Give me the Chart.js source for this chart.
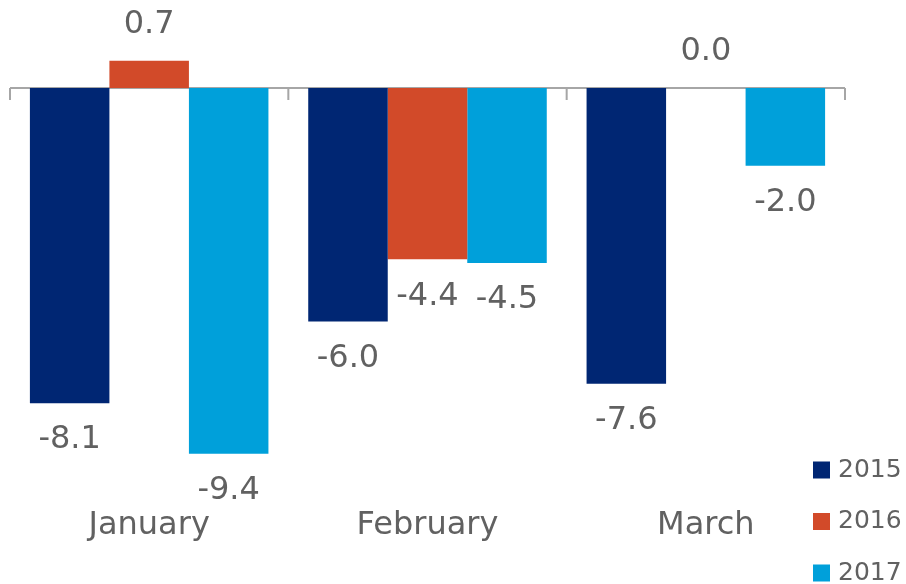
<!DOCTYPE html>
<html>
<head>
<meta charset="utf-8">
<script src="https://cdn.jsdelivr.net/npm/chart.js@4/dist/chart.umd.min.js"></script>
<style>
  html, body { margin: 0; padding: 0; background: #fff; }
  #wrap { width: 906px; height: 584px; }
</style>
</head>
<body>
<div id="wrap"><canvas id="chart" width="906" height="584"></canvas></div>
<script>
// chart data
const months = ['January', 'February', 'March'];
const years = ['2015', '2016', '2017'];
const v2015 = [-8.1, -6.0, -7.6];
const v2016 = [0.7, -4.4, 0.0];
const v2017 = [-9.4, -4.5, -2.0];
const colors = ['#002673', '#D24A29', '#00A0DA'];

const textColor = '#616161';
const fontFamily = '"DejaVu Sans", sans-serif';

// zero line with small ticks between the months
const zeroAxis = {
  id: 'zeroAxis',
  beforeDatasetsDraw(chart) {
    const ctx = chart.ctx;
    const area = chart.chartArea;
    const y0 = chart.scales.y.getPixelForValue(0);
    const x = chart.scales.x;
    ctx.save();
    ctx.strokeStyle = '#A6A6A6';
    ctx.lineWidth = 2;
    ctx.beginPath();
    ctx.moveTo(area.left, y0);
    ctx.lineTo(area.right, y0);
    for (let i = 0; i <= months.length; i++) {
      const px = x.getPixelForValue(i - 0.5);
      ctx.moveTo(px, y0);
      ctx.lineTo(px, y0 + 12);
    }
    ctx.stroke();
    ctx.restore();
  }
};

// value labels on the bars
const barLabels = {
  id: 'barLabels',
  afterDatasetsDraw(chart) {
    const ctx = chart.ctx;
    ctx.save();
    ctx.font = '32px ' + fontFamily;
    ctx.fillStyle = textColor;
    ctx.textAlign = 'center';
    ctx.textBaseline = 'middle';
    chart.data.datasets.forEach((ds, i) => {
      chart.getDatasetMeta(i).data.forEach((bar, j) => {
        const v = ds.data[j];
        const y = v >= 0 ? bar.y - 36 : bar.y + 37;
        ctx.fillText(v.toFixed(1), bar.x, y);
      });
    });
    ctx.restore();
  }
};

// legend in the lower right corner
const sideLegend = {
  id: 'sideLegend',
  afterDraw(chart) {
    const ctx = chart.ctx;
    ctx.save();
    ctx.font = '25px ' + fontFamily;
    ctx.textBaseline = 'middle';
    chart.data.datasets.forEach((ds, i) => {
      const cy = 470 + i * 51.5;
      ctx.fillStyle = ds.backgroundColor;
      ctx.fillRect(813, cy - 8.5, 17, 17);
      ctx.fillStyle = textColor;
      ctx.fillText(ds.label, 838, cy);
    });
    ctx.restore();
  }
};

new Chart(document.getElementById('chart'), {
  type: 'bar',
  data: {
    labels: months,
    datasets: [
      { label: years[0], data: v2015, backgroundColor: colors[0] },
      { label: years[1], data: v2016, backgroundColor: colors[1] },
      { label: years[2], data: v2017, backgroundColor: colors[2] }
    ]
  },
  options: {
    responsive: false,
    animation: false,
    layout: { padding: { left: 10, right: 61, top: 20, bottom: 0 } },
    datasets: {
      bar: { categoryPercentage: 0.857, barPercentage: 1.0 }
    },
    plugins: {
      legend: { display: false },
      tooltip: { enabled: false }
    },
    scales: {
      x: {
        grid: { display: false, drawTicks: false },
        border: { display: false },
        ticks: {
          color: textColor,
          font: { family: fontFamily, size: 32 },
          padding: 10,
          maxRotation: 0
        },
        afterFit(scale) { scale.height = 87.5; }
      },
      y: {
        min: -10.5,
        max: 1.75,
        grid: { display: false, drawTicks: false },
        border: { display: false },
        ticks: { display: false },
        afterFit(scale) { scale.width = 0; }
      }
    }
  },
  plugins: [zeroAxis, barLabels, sideLegend]
});
</script>
</body>
</html>
